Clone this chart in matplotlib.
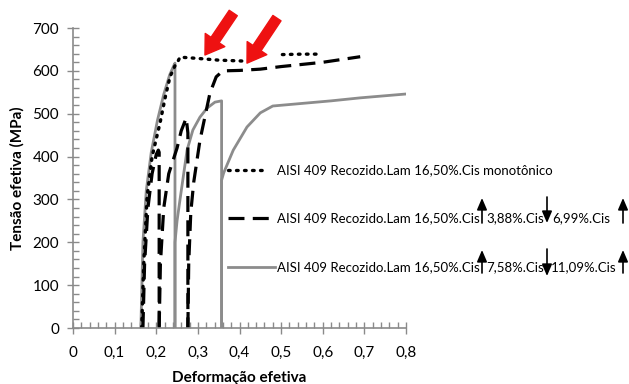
import matplotlib
matplotlib.use("Agg")
import matplotlib.pyplot as plt
import numpy as np
from matplotlib.lines import Line2D
from matplotlib.patches import FancyArrowPatch
from matplotlib.ticker import MultipleLocator, FuncFormatter

plt.rcParams['font.family'] = ['Lato', 'DejaVu Sans']

# ---- data ----
mono_x = [0.165, 0.170, 0.178, 0.19, 0.209, 0.222, 0.233, 0.245, 0.252, 0.257, 0.30, 0.35, 0.406, np.nan, 0.503, 0.55, 0.594]
mono_y = [0, 150, 306, 400, 478, 540, 586, 612, 622, 632, 629, 625, 623, np.nan, 638, 639, 639]

gray1_x = [0.163, 0.168, 0.176, 0.188, 0.203, 0.218, 0.232, 0.242, 0.245, 0.245]
gray1_y = [0, 200, 320, 410, 485, 545, 590, 612, 618, 0]
gray2_x = [0.245, 0.245, 0.250, 0.257, 0.274, 0.288, 0.305, 0.322, 0.341, 0.357, 0.357]
gray2_y = [0, 200, 250, 299, 415, 462, 492, 513, 527, 530, 0]
gray3_x = [0.357, 0.357, 0.362, 0.385, 0.418, 0.45, 0.48, 0.55, 0.62, 0.69, 0.8]
gray3_y = [0, 345, 362, 415, 469, 502, 518, 524, 530, 537, 546]

dash1_x = [0.168, 0.172, 0.18, 0.19, 0.20, 0.205, 0.207, 0.207]
dash1_y = [0, 150, 280, 360, 405, 415, 410, 0]
dash2_x = [0.207, 0.21, 0.218, 0.23, 0.25, 0.26, 0.272, 0.276, 0.276]
dash2_y = [0, 150, 280, 360, 420, 460, 490, 455, 0]
dash3_x = [0.276, 0.278, 0.283, 0.29, 0.305, 0.329, 0.344, 0.36, 0.40, 0.45, 0.50, 0.60, 0.69]
dash3_y = [0, 150, 270, 340, 438, 548, 586, 600, 601, 604, 610, 620, 633]

x_ticks = [0, 0.1, 0.2, 0.3, 0.4, 0.5, 0.6, 0.7, 0.8]
y_ticks = [0, 100, 200, 300, 400, 500, 600, 700]

legend_base = "AISI 409 Recozido.Lam 16,50%.Cis"
legend_mono = "AISI 409 Recozido.Lam 16,50%.Cis monotônico"
legend_dash_parts = ["3,88%.Cis", "6,99%.Cis"]
legend_gray_parts = ["7,58%.Cis", "11,09%.Cis"]

# red arrows (tail, head) in data coords
red_arrows = [((0.385, 735), (0.317, 637)), ((0.49, 723), (0.418, 618))]

W, H = 629, 384
fig = plt.figure(figsize=(W / 100, H / 100), dpi=100)
ax = fig.add_axes([73 / W, 1 - 328 / H, 333 / W, 300 / H])

GRAY = '#8c8c8c'
DOT = (0, (0.5, 1.9))
ax.plot(gray1_x, gray1_y, color=GRAY, lw=2)
ax.plot(gray2_x, gray2_y, color=GRAY, lw=2)
ax.plot(gray3_x, gray3_y, color=GRAY, lw=2)
for dx, dy in [(dash1_x, dash1_y), (dash2_x, dash2_y), (dash3_x, dash3_y)]:
    ax.plot(dx, dy, color='black', lw=2.3, dashes=(5, 2.6))
ax.plot(mono_x, mono_y, color='black', lw=2.4, linestyle=DOT, dash_capstyle='round')

ax.set_xlim(0, 0.8)
ax.set_ylim(0, 700)
ax.set_xticks(x_ticks)
ax.set_yticks(y_ticks)
ax.xaxis.set_minor_locator(MultipleLocator(0.02))
ax.yaxis.set_minor_locator(MultipleLocator(20))
ax.xaxis.set_major_formatter(FuncFormatter(lambda v, p: ('%g' % v).replace('.', ',')))
for s in ['top', 'right']:
    ax.spines[s].set_visible(False)
for s in ['left', 'bottom']:
    ax.spines[s].set_color('#8a8a8a')
    ax.spines[s].set_linewidth(1.2)
ax.tick_params(which='major', direction='inout', length=8, color='#8a8a8a', width=1, labelsize=11, pad=4)
ax.tick_params(axis='x', which='major', pad=9)
ax.tick_params(axis='y', which='major', pad=6)
ax.tick_params(which='minor', direction='in', length=4, color='#8a8a8a', width=1)
ax.set_xlabel("Deformação efetiva", fontsize=11, fontweight='bold', labelpad=8)
ax.set_ylabel("Tensão efetiva (MPa)", fontsize=11, fontweight='bold', labelpad=6)

for (tx, ty), (hx, hy) in red_arrows:
    ax.annotate('', xy=(hx, hy), xytext=(tx, ty), annotation_clip=False,
                arrowprops=dict(facecolor='#ee1111', edgecolor='#ee1111', width=7, headwidth=17, headlength=13))

# legend drawn manually (pixel positions)
def P(x, y):
    return (x / W, 1 - y / H)

def fline(x0, x1, y, **kw):
    (a, b), (c, d) = P(x0, y), P(x1, y)
    fig.add_artist(Line2D([a, c], [b, d], transform=fig.transFigure, **kw))

fs = 9.5
r1, r2, r3 = 170, 218, 267
fline(228, 268, r1, color='black', lw=2.4, linestyle=DOT, dash_capstyle='round')
fig.text(*P(277, r1), legend_mono, fontsize=fs, va='center', ha='left')
fline(228, 275, r2, color='black', lw=2.3, dashes=(5, 2.6))
fig.text(*P(277, r2), legend_base, fontsize=fs, va='center', ha='left')
fig.text(*P(486, r2), legend_dash_parts[0], fontsize=fs, va='center', ha='left')
fig.text(*P(552, r2), legend_dash_parts[1], fontsize=fs, va='center', ha='left')
fline(228, 275, r3, color=GRAY, lw=2)
fig.text(*P(277, r3), legend_base, fontsize=fs, va='center', ha='left')
fig.text(*P(486, r3), legend_gray_parts[0], fontsize=fs, va='center', ha='left')
fig.text(*P(551, r3), legend_gray_parts[1], fontsize=fs, va='center', ha='left')

def farrow(x, ytail, yhead):
    fig.add_artist(FancyArrowPatch(P(x, ytail), P(x, yhead), transform=fig.transFigure,
                   arrowstyle='-|>,head_length=7,head_width=3', color='black', lw=1.2,
                   mutation_scale=1, shrinkA=0, shrinkB=0))

for yt, yh in [(223, 198), (273, 250)]:
    farrow(482, yt, yh)
    farrow(623, yt, yh)
for yt, yh in [(197, 223), (249, 276)]:
    farrow(547, yt, yh)

fig.savefig("out.png", dpi=100)
